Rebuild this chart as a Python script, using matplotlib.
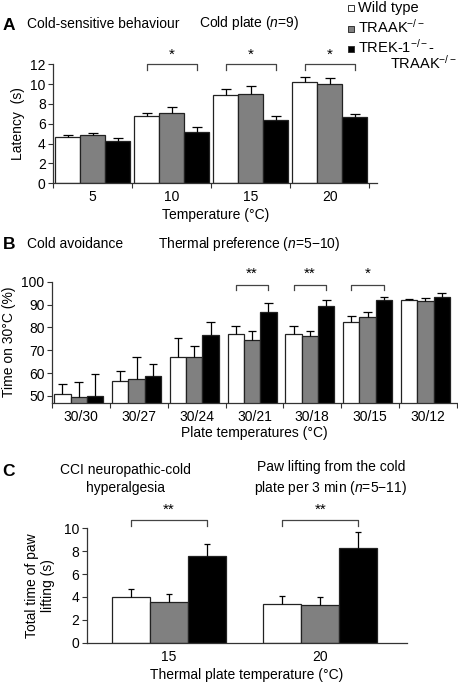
import matplotlib
matplotlib.use('Agg')
import matplotlib.pyplot as plt
import numpy as np
from matplotlib.patches import Rectangle

plt.rcParams['font.family'] = ['Liberation Sans', 'DejaVu Sans']
plt.rcParams['mathtext.fontset'] = 'custom'
plt.rcParams['mathtext.rm'] = 'Liberation Sans'
plt.rcParams['mathtext.it'] = 'Liberation Sans:italic'
plt.rcParams['mathtext.bf'] = 'Liberation Sans:bold'

# ---------------- data ----------------
series_names = ['Wild type', 'TRAAK$^{-/-}$', 'TREK-1$^{-/-}$-']
series_colors = ['white', '#808080', 'black']

a_temps = ['5', '10', '15', '20']
a_wt = [4.64, 6.79, 8.90, 10.18]
a_wt_err = [0.23, 0.34, 0.58, 0.54]
a_traak = [4.87, 7.06, 8.97, 9.98]
a_traak_err = [0.21, 0.67, 0.85, 0.64]
a_trek = [4.30, 5.14, 6.39, 6.72]
a_trek_err = [0.30, 0.51, 0.37, 0.27]
a_sig = ['', '*', '*', '*']

b_temps = ['30/30', '30/27', '30/24', '30/21', '30/18', '30/15', '30/12']
b_wt = [50.6, 56.5, 67.0, 77.0, 77.0, 82.4, 91.8]
b_wt_err = [4.5, 4.5, 8.5, 3.7, 3.7, 2.6, 0.5]
b_traak = [49.6, 57.2, 67.0, 74.3, 76.0, 84.7, 91.4]
b_traak_err = [6.6, 9.8, 4.7, 4.0, 2.3, 2.1, 1.6]
b_trek = [49.8, 58.8, 76.6, 86.6, 89.5, 92.2, 93.3]
b_trek_err = [9.6, 5.2, 5.7, 4.0, 2.3, 1.0, 1.6]
b_sig = ['', '', '', '**', '**', '*', '']

c_temps = ['15', '20']
c_wt = [3.97, 3.40]
c_wt_err = [0.70, 0.68]
c_traak = [3.55, 3.30]
c_traak_err = [0.72, 0.72]
c_trek = [7.60, 8.30]
c_trek_err = [1.05, 1.35]
c_sig = ['**', '**']

# ---------------- layout helpers ----------------
W, H = 458, 682
fig = plt.figure(figsize=(W / 100, H / 100), dpi=100)
EDGE = '#222222'
SPINE = '#333333'
FS = 10


def px_axes(left, top, right, bottom):
    return fig.add_axes([left / W, 1 - bottom / H, (right - left) / W, (bottom - top) / H])


def ftext(x, y, s, **kw):
    kw.setdefault('fontsize', FS)
    return fig.text(x / W, 1 - y / H, s, **kw)


def draw_panel(ax, cats, groups, errs, width, offset, capw, sig, br_top, br_drop,
               star_y, ylim, xlim, boundary_ticks=True):
    x = np.arange(len(cats))
    for i, (vals, ev, col) in enumerate(zip(groups, errs, series_colors)):
        xs = x + offset + (i - 1) * width
        ax.bar(xs, vals, width=width, color=col, edgecolor=EDGE, linewidth=0.9, zorder=2)
        tops = np.array(vals) + np.array(ev)
        ax.vlines(xs, vals, tops, color='black', linewidth=0.9, zorder=3)
        ax.hlines(tops, xs - capw, xs + capw, color='black', linewidth=0.9, zorder=3)
    for j, s in enumerate(sig):
        if not s:
            continue
        x0 = x[j] + offset - width
        x1 = x[j] + offset + width
        ax.plot([x0, x0, x1, x1], [br_top - br_drop, br_top, br_top, br_top - br_drop],
                color='#444444', linewidth=0.9, clip_on=False, zorder=4)
        ax.text(x[j] + offset, star_y, s, ha='center', va='center', fontsize=11,
                clip_on=False)
    ax.set_xlim(*xlim)
    ax.set_ylim(*ylim)
    ax.set_xticks(x)
    ax.set_xticklabels(cats, fontsize=FS)
    ax.tick_params(axis='x', which='major', length=0, pad=5)
    if boundary_ticks:
        ax.set_xticks(np.arange(-0.5, len(cats) + 0.01, 1.0), minor=True)
        ax.tick_params(axis='x', which='minor', length=3.5, direction='out',
                       color=SPINE, width=0.8)
    ax.tick_params(axis='y', length=3.5, direction='out', color=SPINE, width=0.8,
                   labelsize=FS, pad=2)
    for sp in ['top', 'right']:
        ax.spines[sp].set_visible(False)
    for sp in ['left', 'bottom']:
        ax.spines[sp].set_color(SPINE)
        ax.spines[sp].set_linewidth(0.9)


# ---------------- Panel A ----------------
axA = px_axes(53.3, 64.3, 377, 183.3)
draw_panel(axA, a_temps, [a_wt, a_traak, a_trek], [a_wt_err, a_traak_err, a_trek_err],
           width=0.316, offset=0.0, capw=0.065, sig=a_sig, br_top=12.0, br_drop=0.57,
           star_y=13.0, ylim=(0, 12), xlim=(-0.5, 3.597))
axA.set_yticks(np.arange(0, 13, 2))
axA.set_xlabel('Temperature (°C)', fontsize=FS, labelpad=3)
axA.set_ylabel('Latency  (s)', fontsize=FS, labelpad=4)

ftext(3, 29.5, 'A', fontsize=12.5, fontweight='bold')
ftext(26.7, 27.5, 'Cold-sensitive behaviour')
ftext(199.3, 27.5, 'Cold plate ($n$=9)')

# legend (manual)
leg_rows = [12.0, 33.0, 53.0]
for name, col, yy in zip(series_names, series_colors, leg_rows):
    fig.add_artist(Rectangle((348.0 / W, 1 - (yy - 1.5) / H), 6.0 / W, 6.0 / H,
                             transform=fig.transFigure, facecolor=col,
                             edgecolor='#333333', linewidth=0.7))
    ftext(358.5, yy, name, fontsize=10.5)
ftext(457, 68.5, 'TRAAK$^{-/-}$', fontsize=10.5, ha='right')

# ---------------- Panel B ----------------
axB = px_axes(52.2, 281.7, 456.6, 402.7)
draw_panel(axB, b_temps, [b_wt, b_traak, b_trek], [b_wt_err, b_traak_err, b_trek_err],
           width=0.283, offset=-0.04, capw=0.075, sig=b_sig, br_top=98.6, br_drop=2.3,
           star_y=103.3, ylim=(47, 100), xlim=(-0.5, 6.5))
axB.set_yticks(np.arange(50, 101, 10))
axB.set_xlabel('Plate temperatures (°C)', fontsize=FS, labelpad=2)
axB.set_ylabel('Time on 30°C (%)', fontsize=FS, labelpad=4)

ftext(3, 249.3, 'B', fontsize=12.5, fontweight='bold')
ftext(26.7, 248.3, 'Cold avoidance')
ftext(157.7, 248.3, 'Thermal preference ($n$=5$-$10)')

# ---------------- Panel C ----------------
axC = px_axes(86.7, 528.3, 406.7, 642.7)
draw_panel(axC, c_temps, [c_wt, c_traak, c_trek], [c_wt_err, c_traak_err, c_trek_err],
           width=0.252, offset=0.0, capw=0.02, sig=c_sig, br_top=10.74, br_drop=0.5,
           star_y=11.6, ylim=(0, 10), xlim=(-0.546, 1.573), boundary_ticks=False)
axC.set_yticks(np.arange(0, 11, 2))
axC.set_xlabel('Thermal plate temperature (°C)', fontsize=FS, labelpad=3)
axC.set_ylabel('Total time of paw\nlifting (s)', fontsize=FS, labelpad=6,
               linespacing=1.2)

ftext(2, 475.5, 'C', fontsize=12.5, fontweight='bold')
ftext(125, 492, 'CCI neuropathic-cold\nhyperalgesia', ha='center', va='baseline',
      linespacing=1.35)
ftext(331, 492, 'Paw lifting from the cold\nplate per 3 min ($n$=5$-$11)', ha='center',
      va='baseline', linespacing=1.35, multialignment='center')

fig.savefig('out.png', dpi=100)
